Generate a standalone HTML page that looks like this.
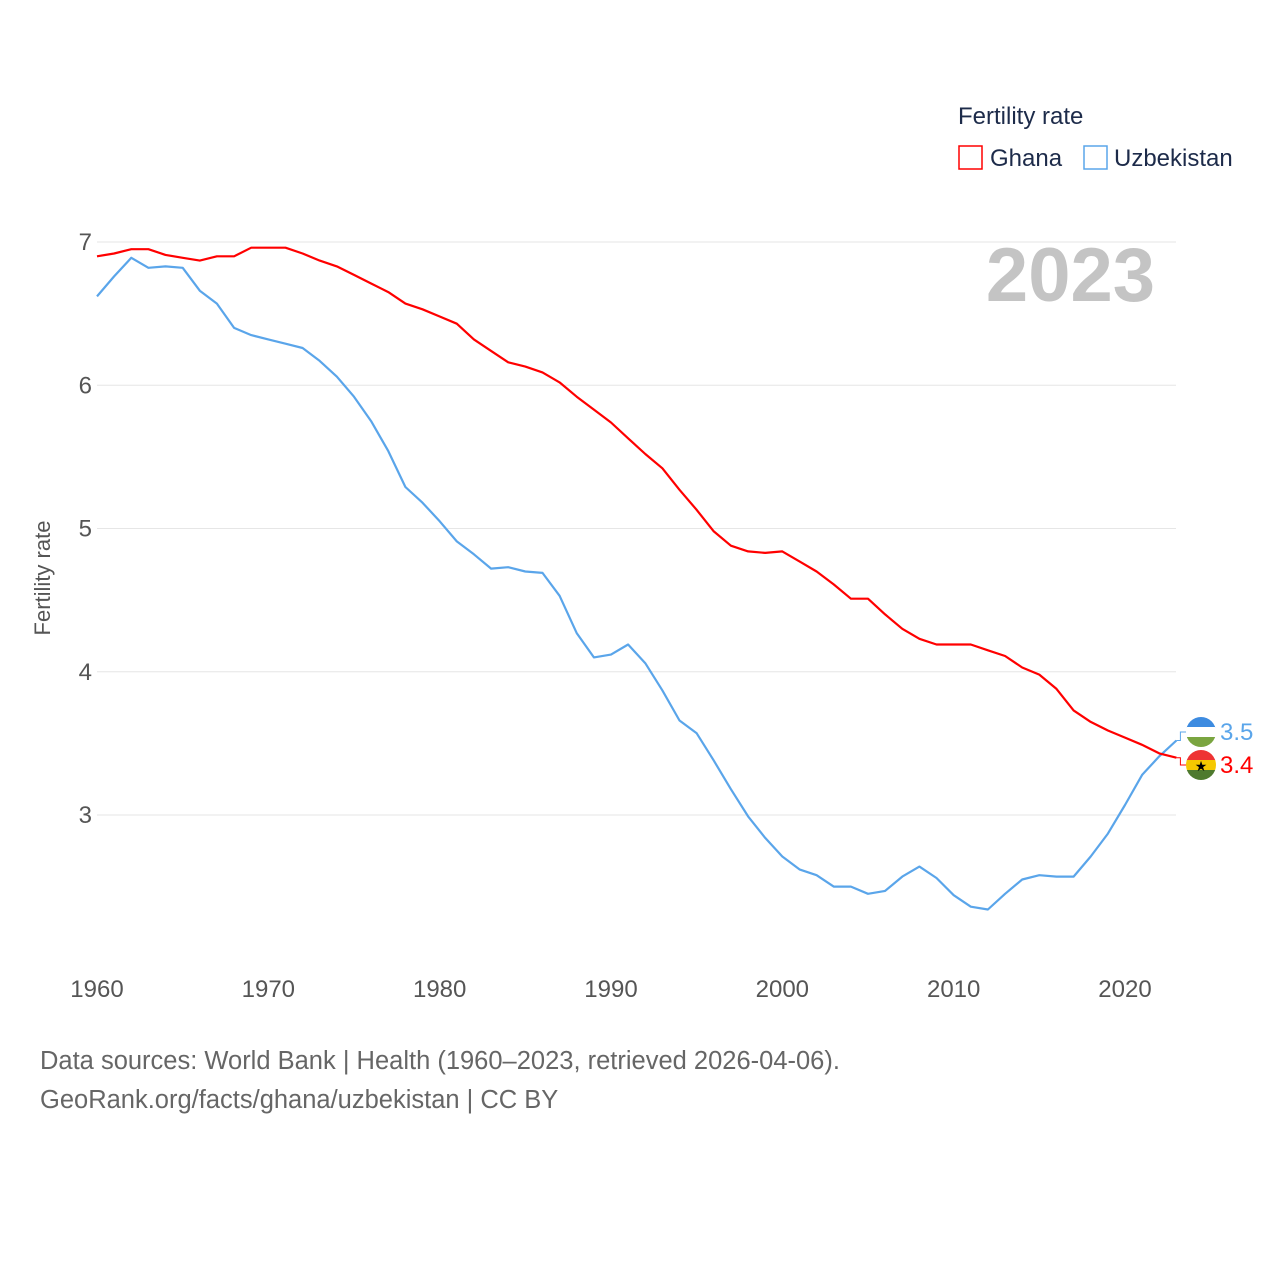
<!DOCTYPE html>
<html><head><meta charset="utf-8"><style>
body{margin:0;background:#fff;font-family:"Liberation Sans",sans-serif}
svg text{font-family:"Liberation Sans",sans-serif}
</style></head><body>
<svg width="1280" height="1280">
<g id="grid"></g>
<g id="yticks"></g>
<g id="xticks"></g>
<text x="50" y="578" transform="rotate(-90 50 578)" text-anchor="middle" font-size="22" fill="#555">Fertility rate</text>
<text x="1155" y="301" text-anchor="end" font-size="76" font-weight="bold" fill="#c4c4c4">2023</text>
<text x="958" y="124" font-size="24" fill="#1d2b4a">Fertility rate</text>
<g><rect x="959" y="146" width="23" height="23" fill="none" stroke="#f00" stroke-width="1.5"/><text x="990" y="166" font-size="24" fill="#1d2b4a">Ghana</text></g>
<g><rect x="1084" y="146" width="23" height="23" fill="none" stroke="#5aa5ea" stroke-width="1.5"/><text x="1114" y="166" font-size="24" fill="#1d2b4a">Uzbekistan</text></g>
<g id="series"></g>
<g id="ends"></g>
<text x="40" y="1069" font-size="25.5" fill="#666">Data sources: World Bank | Health (1960–2023, retrieved 2026-04-06).</text>
<text x="40" y="1108" font-size="25.5" fill="#666">GeoRank.org/facts/ghana/uzbekistan | CC BY</text>
</svg>
<script>
const years=[];for(let y=1960;y<=2023;y++)years.push(y);
const ghana=[6.90,6.92,6.95,6.95,6.91,6.89,6.87,6.90,6.90,6.96,6.96,6.96,6.92,6.87,6.83,6.77,6.71,6.65,6.57,6.53,6.48,6.43,6.32,6.24,6.16,6.13,6.09,6.02,5.92,5.83,5.74,5.63,5.52,5.42,5.27,5.13,4.98,4.88,4.84,4.83,4.84,4.77,4.70,4.61,4.51,4.51,4.40,4.30,4.23,4.19,4.19,4.19,4.15,4.11,4.03,3.98,3.88,3.73,3.65,3.59,3.54,3.49,3.43,3.40];
const uzbekistan=[6.62,6.76,6.89,6.82,6.83,6.82,6.66,6.57,6.40,6.35,6.32,6.29,6.26,6.17,6.06,5.92,5.75,5.54,5.29,5.18,5.05,4.91,4.82,4.72,4.73,4.70,4.69,4.53,4.27,4.10,4.12,4.19,4.06,3.87,3.66,3.57,3.38,3.18,2.99,2.84,2.71,2.62,2.58,2.50,2.50,2.45,2.47,2.57,2.64,2.56,2.44,2.36,2.34,2.45,2.55,2.58,2.57,2.57,2.71,2.87,3.07,3.28,3.41,3.52];
const yTicks=[3,4,5,6,7];
const xTicks=[1960,1970,1980,1990,2000,2010,2020];
const NS="http://www.w3.org/2000/svg";
const xs=y=>97+(y-1960)*(1028/60);
const ys=v=>242+(7-v)*143.25;
function mk(tag,attrs,parent,txt){const e=document.createElementNS(NS,tag);for(const k in attrs)e.setAttribute(k,attrs[k]);if(txt!=null)e.textContent=txt;parent.appendChild(e);return e;}
const grid=document.getElementById('grid'),yt=document.getElementById('yticks'),xt=document.getElementById('xticks');
yTicks.forEach(v=>{
 const l=mk('line',{x1:97,x2:1176,y1:ys(v),y2:ys(v),stroke:'#e6e6e6','stroke-width':1},grid);
 
 
 const t=mk('text',{x:92,y:ys(v)+8,'text-anchor':'end','font-size':24,fill:'#555'},yt,String(v));
 
 
});
xTicks.forEach(v=>{
 const t=mk('text',{x:xs(v),y:997,'text-anchor':'middle','font-size':24,fill:'#555'},xt,String(v));
 
 
});
const ser=document.getElementById('series');
function line(data,color,name){
 const d=data.map((v,i)=>(i?'L':'M')+xs(years[i]).toFixed(1)+','+ys(v).toFixed(1)).join('');
 const p=mk('path',{d:d,fill:'none',stroke:color,'stroke-width':2.2,'stroke-linejoin':'round'},ser);
 
 
}
line(uzbekistan,'#5aa5ea','line-uzbekistan');
line(ghana,'#f00','line-ghana');
const ends=document.getElementById('ends');
const n=years.length-1;
function endLabel(v,labelY,color,name,flag){
 const x0=xs(years[n]);
 const c=mk('path',{d:`M${x0},${ys(v)} H${x0+4} V${labelY} H${x0+10}`,fill:'none',stroke:color,'stroke-width':1},ends);
 
 
 const g=mk('g',{},ends);
 
 
 const cx=1201,r=15;
 flag.forEach((col,i)=>{const h=2*r/flag.length;mk('rect',{x:cx-r,y:labelY-r+i*h,width:2*r,height:h+0.5,fill:col,'clip-path':'url(#cc'+name+')'},g);});
 const cp=mk('clipPath',{id:'cc'+name},g);mk('circle',{cx:cx,cy:labelY,r:r},cp);
 if(name==='end-ghana')mk('text',{x:cx,y:labelY+6,'text-anchor':'middle','font-size':14,fill:'#000'},g,'★');
 const t=mk('text',{x:1220,y:labelY+8,'font-size':24,fill:color},ends,v.toFixed(1));
 
 
}
endLabel(uzbekistan[n],732,'#5aa5ea','end-uzbekistan',['#3d8be0','#fff','#7aa540']);
endLabel(ghana[n],765,'#f00','end-ghana',['#e33','#f5c800','#4e7a2e']);
</script>
</body></html>
